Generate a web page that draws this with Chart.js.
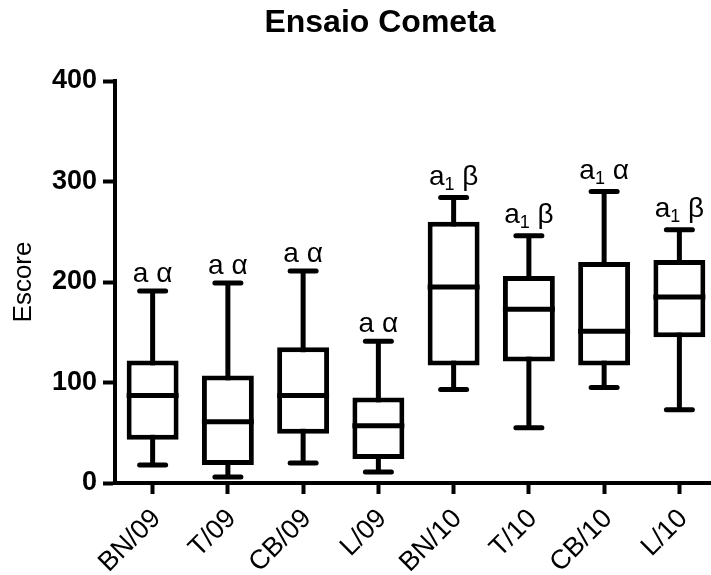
<!DOCTYPE html>
<html>
<head>
<meta charset="utf-8">
<script src="https://cdn.jsdelivr.net/npm/chart.js@4.4.0/dist/chart.umd.min.js"></script>
<style>
  html, body { margin: 0; padding: 0; background: #fff; overflow: hidden; }
</style>
</head>
<body>
<canvas id="myChart" width="760" height="575"></canvas>
<script>
const labels = ["BN/09", "T/09", "CB/09", "L/09", "BN/10", "T/10", "CB/10", "L/10"];
const lowData = [18, 6, 20, 11, 93, 55, 95, 73];
const q1Data = [43, 18, 49, 24, 117, 121, 117, 145];
const medianData = [87, 61, 87, 57, 195, 173, 151, 185];
const q3Data = [122, 107, 135, 85, 260, 206, 220, 222];
const highData = [191, 199, 211, 141, 284, 246, 290, 252];
// letras acima de cada caixa: "a", indice, letra grega
const letterData = ["a", "a", "a", "a", "a", "a", "a", "a"];
const subData = ["", "", "", "", "1", "1", "1", "1"];
const greekData = ["α", "α", "α", "α", "β", "β", "α", "β"];

Chart.defaults.font.family = "Arial, 'Liberation Sans', sans-serif";
Chart.defaults.color = "#000";

const boxPlot = {
  id: "boxPlot",
  beforeDatasetsDraw(chart) {
    const { ctx, scales: { x, y } } = chart;
    ctx.save();
    ctx.strokeStyle = "#000";
    ctx.lineWidth = 5;
    labels.forEach((l, i) => {
      const px = x.getPixelForValue(i);
      ctx.lineCap = "butt";
      ctx.beginPath();
      ctx.moveTo(px, y.getPixelForValue(lowData[i]));
      ctx.lineTo(px, y.getPixelForValue(highData[i]));
      ctx.stroke();
      ctx.lineCap = "round";
      [lowData[i], highData[i]].forEach((v) => {
        ctx.beginPath();
        ctx.moveTo(px - 13, y.getPixelForValue(v));
        ctx.lineTo(px + 13, y.getPixelForValue(v));
        ctx.stroke();
      });
    });
    ctx.restore();
  },
  afterDatasetsDraw(chart) {
    const { ctx, scales: { y } } = chart;
    const bars = chart.getDatasetMeta(0).data;
    ctx.save();
    ctx.strokeStyle = "#000";
    ctx.fillStyle = "#000";
    ctx.lineWidth = 5;
    bars.forEach((bar, i) => {
      const my = y.getPixelForValue(medianData[i]);
      ctx.beginPath();
      ctx.moveTo(bar.x - bar.width / 2, my);
      ctx.lineTo(bar.x + bar.width / 2, my);
      ctx.stroke();

      // texto acima do bigode
      const big = "28px Arial, 'Liberation Sans', sans-serif";
      const small = "18px Arial, 'Liberation Sans', sans-serif";
      ctx.font = big;
      const wA = ctx.measureText(letterData[i]).width;
      const wG = ctx.measureText(" " + greekData[i]).width;
      ctx.font = small;
      const wS = subData[i] ? ctx.measureText(subData[i]).width : 0;
      const total = wA + wS + wG;
      const base = y.getPixelForValue(highData[i]) - (subData[i] ? 13 : 9);
      let tx = bar.x - total / 2;
      ctx.textAlign = "left";
      ctx.textBaseline = "alphabetic";
      ctx.font = big;
      ctx.fillText(letterData[i], tx, base);
      tx += wA;
      if (subData[i]) {
        ctx.font = small;
        ctx.fillText(subData[i], tx, base + 5);
        tx += wS;
      }
      ctx.font = big;
      ctx.fillText(" " + greekData[i], tx, base);
    });
    ctx.restore();
  },
};

const data = {
  labels: labels,
  datasets: [
    {
      label: "Escore",
      data: labels.map((l, i) => [q1Data[i], q3Data[i]]),
      backgroundColor: "#fff",
      borderColor: "#000",
      borderWidth: 5,
      borderSkipped: false,
      barPercentage: 0.69,
      categoryPercentage: 1,
    },
  ],
};

const config = {
  type: "bar",
  data: data,
  options: {
    responsive: false,
    animation: false,
    layout: { padding: { left: 43, right: 43 } },
    plugins: {
      legend: { display: false },
      tooltip: { enabled: false },
      title: {
        display: true,
        text: "Ensaio Cometa",
        color: "#000",
        font: { size: 32, weight: "bold" },
        padding: { top: 4, bottom: 38.6 },
      },
    },
    scales: {
      x: {
        ticks: { color: "#000", font: { size: 27 }, minRotation: 45, maxRotation: 45, padding: 9, labelOffset: 4 },
        grid: { offset: false, drawOnChartArea: false, tickLength: 11, tickWidth: 4, tickColor: "#000" },
        border: { color: "#000", width: 4 },
        afterFit: (s) => { s.height = 92; },
      },
      y: {
        min: 0,
        max: 400,
        ticks: { stepSize: 100, color: "#000", font: { size: 27, weight: "bold" }, padding: 6 },
        grid: { drawOnChartArea: false, tickLength: 12, tickWidth: 4, tickColor: "#000" },
        border: { color: "#000", width: 4 },
        title: { display: true, text: "Escore", color: "#000", font: { size: 26 }, padding: { top: -35, bottom: 0 } },
        afterFit: (s) => { s.width = 72; },
      },
    },
  },
  plugins: [boxPlot],
};

const myChart = new Chart(document.getElementById("myChart"), config);
</script>
</body>
</html>
